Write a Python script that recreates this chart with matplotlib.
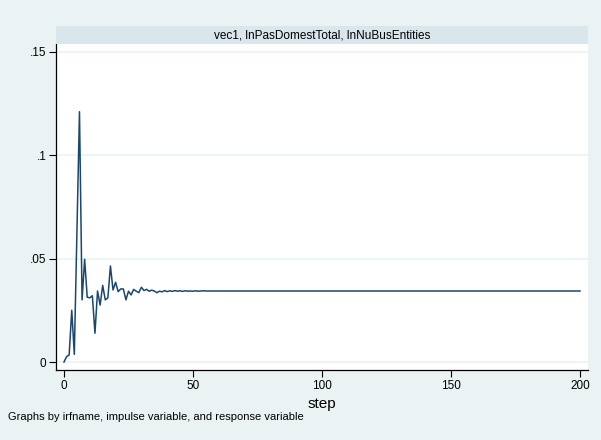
import matplotlib
matplotlib.use("Agg")
import matplotlib.pyplot as plt

plt.rcParams['font.family'] = ['Liberation Sans', 'DejaVu Sans']

# impulse response, steps 0..56
irf_head = [0.0, 0.0026, 0.0034, 0.025, 0.0037, 0.062, 0.1209, 0.030, 0.0496, 0.0313,
            0.031, 0.032, 0.0139, 0.0343, 0.0275, 0.037, 0.030, 0.031, 0.0464, 0.0348,
            0.0385, 0.034, 0.0353, 0.0353, 0.030, 0.0342, 0.0324, 0.0351, 0.0342, 0.0335,
            0.0361, 0.0345, 0.0351, 0.0342, 0.0347, 0.0343, 0.0335, 0.0342, 0.0339, 0.0345,
            0.0340, 0.0344, 0.0341, 0.0345, 0.0342, 0.0344, 0.0341, 0.0344, 0.0342, 0.0343,
            0.0342, 0.0344, 0.0342, 0.0343, 0.0344, 0.0343, 0.0343]
steady = 0.0343
irf = irf_head + [steady] * (201 - len(irf_head))
steps = list(range(len(irf)))

xticks = [0, 50, 100, 150, 200]
yticks = [0, 0.05, 0.1, 0.15]
ylabels = ["0", ".05", ".1", ".15"]
title = "vec1, lnPasDomestTotal, lnNuBusEntities"

bg = "#eaf2f3"
navy = "#1a476f"

fig = plt.figure(figsize=(6.01, 4.40), dpi=100, facecolor=bg)

W, H = 601, 440
left, right, top, bottom = 56, 588, 44, 370
ax = fig.add_axes([left / W, 1 - bottom / H, (right - left) / W, (bottom - top) / H])
ax.set_facecolor("white")

ax.plot(steps, irf, color=navy, lw=1.1)

# pixel mapping: step 0 -> 64, step 200 -> 580 ; y 0 -> 362, 0.05 -> 258.5
px_per_step = (580 - 64) / 200
ax.set_xlim(-(64 - left) / px_per_step, 200 + (right - 580) / px_per_step)
px_per_unit = 103.5 / 0.05
ax.set_ylim(-(bottom - 362) / px_per_unit, (362 - top) / px_per_unit)

ax.set_xticks(xticks)
ax.set_xticklabels([str(t) for t in xticks], fontsize=8.5)
ax.set_yticks(yticks)
ax.set_yticklabels(ylabels, fontsize=8.5)
ax.tick_params(direction="out", length=5, width=0.8, color="black", pad=2)
ax.grid(axis="y", color=bg, lw=1.2)
ax.set_axisbelow(True)

for s in ["top", "right"]:
    ax.spines[s].set_visible(False)
for s in ["left", "bottom"]:
    ax.spines[s].set_color("black")
    ax.spines[s].set_linewidth(0.9)

ax.set_xlabel("step", fontsize=11, labelpad=4)

# strip header
strip = fig.add_axes([left / W, 1 - top / H, (right - left) / W, 18 / H])
strip.set_facecolor("#d9e6eb")
strip.set_xticks([])
strip.set_yticks([])
for s in strip.spines.values():
    s.set_visible(False)
strip.text(0.5, 0.5, title, ha="center", va="center", fontsize=8.5, transform=strip.transAxes)

fig.text(8 / W, 1 - 417 / H, "Graphs by irfname, impulse variable, and response variable",
         fontsize=8, ha="left", va="center")

fig.savefig("out.png", dpi=100, facecolor=bg)
